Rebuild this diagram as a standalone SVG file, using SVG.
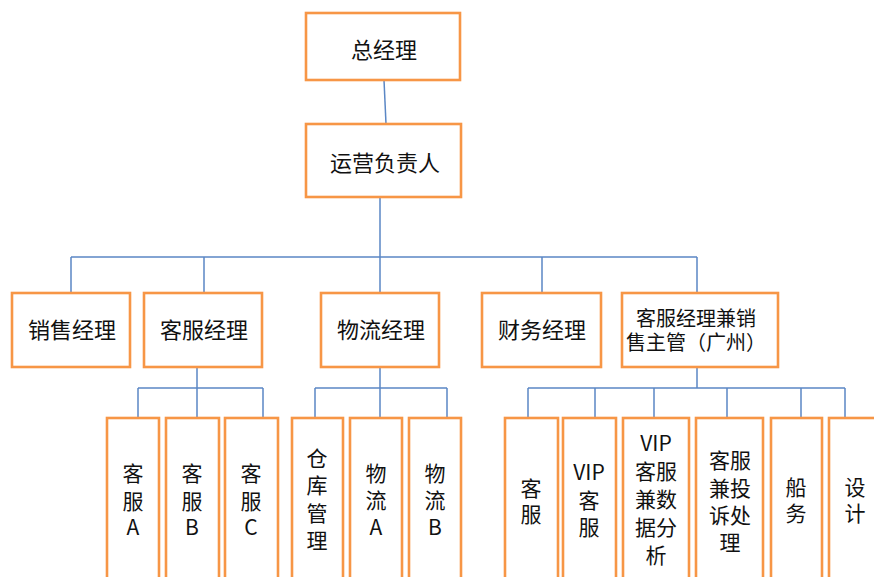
<svg xmlns="http://www.w3.org/2000/svg" width="874" height="577" viewBox="0 0 874 577">
<style>
.box{fill:#fff;stroke:#F79646;stroke-width:2.6}
.c{fill:none;stroke:#5B87C5;stroke-width:1.5}
text{font-family:"Noto Sans CJK SC","Noto Sans",sans-serif;fill:#111;text-anchor:middle}
.t1{font-size:22px}
.t2{font-size:20px}
.t3{font-size:21px}
</style>
<rect width="874" height="577" fill="#fff"/>
<g id="connectors">
<path class="c" d="M384,80 L386,124"/>
<path class="c" d="M380,197 V257 M71,257 H697 M71,257 V293 M204,257 V293 M380,257 V293 M542,257 V293 M697,257 V293"/>
<path class="c" d="M197,367 V418 M138,388 H263 M138,388 V418 M263,388 V418"/>
<path class="c" d="M380,367 V418 M315,388 H447 M315,388 V418 M447,388 V418"/>
<path class="c" d="M697,367 V388 M528,388 H845 M528,388 V418 M595,388 V418 M654,388 V418 M727,388 V418 M801,388 V418 M845,388 V418"/>
</g>
<g id="n_zjl"><rect class="box" x="306" y="13" width="154" height="67"/><text class="t1" x="384" y="58">总经理</text></g>
<g id="n_yy"><rect class="box" x="306" y="124" width="155" height="73"/><text class="t1" x="385" y="171">运营负责人</text></g>
<g id="n_xs"><rect class="box" x="12" y="293" width="118" height="74"/><text class="t1" x="72" y="338">销售经理</text></g>
<g id="n_kf"><rect class="box" x="144" y="293" width="118" height="74"/><text class="t1" x="204" y="338">客服经理</text></g>
<g id="n_wl"><rect class="box" x="321" y="293" width="118" height="74"/><text class="t1" x="381" y="338">物流经理</text></g>
<g id="n_cw"><rect class="box" x="482" y="293" width="119" height="74"/><text class="t1" x="542" y="338">财务经理</text></g>
<g id="n_kfxs"><rect class="box" x="622" y="293" width="156" height="74"/><text class="t2"><tspan x="696" y="326">客服经理兼销</tspan><tspan x="696" y="350">售主管（广州）</tspan></text></g>
<g id="n_kfa"><rect class="box" x="107" y="418" width="52" height="180"/><text class="t3"><tspan x="133" y="481">客</tspan><tspan x="133" y="509">服</tspan><tspan x="133" y="535">A</tspan></text></g>
<g id="n_kfb"><rect class="box" x="166" y="418" width="53" height="180"/><text class="t3"><tspan x="192" y="481">客</tspan><tspan x="192" y="509">服</tspan><tspan x="192" y="535">B</tspan></text></g>
<g id="n_kfc"><rect class="box" x="225" y="418" width="53" height="180"/><text class="t3"><tspan x="251" y="481">客</tspan><tspan x="251" y="509">服</tspan><tspan x="251" y="535">C</tspan></text></g>
<g id="n_ck"><rect class="box" x="292" y="418" width="51" height="180"/><text class="t3"><tspan x="317" y="466">仓</tspan><tspan x="317" y="493">库</tspan><tspan x="317" y="521">管</tspan><tspan x="317" y="548">理</tspan></text></g>
<g id="n_wla"><rect class="box" x="350" y="418" width="52" height="180"/><text class="t3"><tspan x="376" y="481">物</tspan><tspan x="376" y="508">流</tspan><tspan x="376" y="535">A</tspan></text></g>
<g id="n_wlb"><rect class="box" x="409" y="418" width="52" height="180"/><text class="t3"><tspan x="435" y="481">物</tspan><tspan x="435" y="508">流</tspan><tspan x="435" y="535">B</tspan></text></g>
<g id="n_kf2"><rect class="box" x="505" y="418" width="53" height="180"/><text class="t3"><tspan x="531" y="496">客</tspan><tspan x="531" y="522">服</tspan></text></g>
<g id="n_vip"><rect class="box" x="563" y="418" width="53" height="180"/><text class="t3"><tspan x="589" y="480">VIP</tspan><tspan x="589" y="508">客</tspan><tspan x="589" y="535">服</tspan></text></g>
<g id="n_vipsj"><rect class="box" x="623" y="418" width="66" height="180"/><text class="t3"><tspan x="656" y="451">VIP</tspan><tspan x="656" y="479">客服</tspan><tspan x="656" y="507">兼数</tspan><tspan x="656" y="535">据分</tspan><tspan x="656" y="563">析</tspan></text></g>
<g id="n_ts"><rect class="box" x="696" y="418" width="67" height="180"/><text class="t3"><tspan x="730" y="468">客服</tspan><tspan x="730" y="496">兼投</tspan><tspan x="730" y="523">诉处</tspan><tspan x="730" y="550">理</tspan></text></g>
<g id="n_cwu"><rect class="box" x="771" y="418" width="51" height="180"/><text class="t3"><tspan x="796" y="495">船</tspan><tspan x="796" y="521">务</tspan></text></g>
<g id="n_sj"><rect class="box" x="829" y="418" width="52" height="180"/><text class="t3"><tspan x="855" y="495">设</tspan><tspan x="855" y="521">计</tspan></text></g>
</svg>
